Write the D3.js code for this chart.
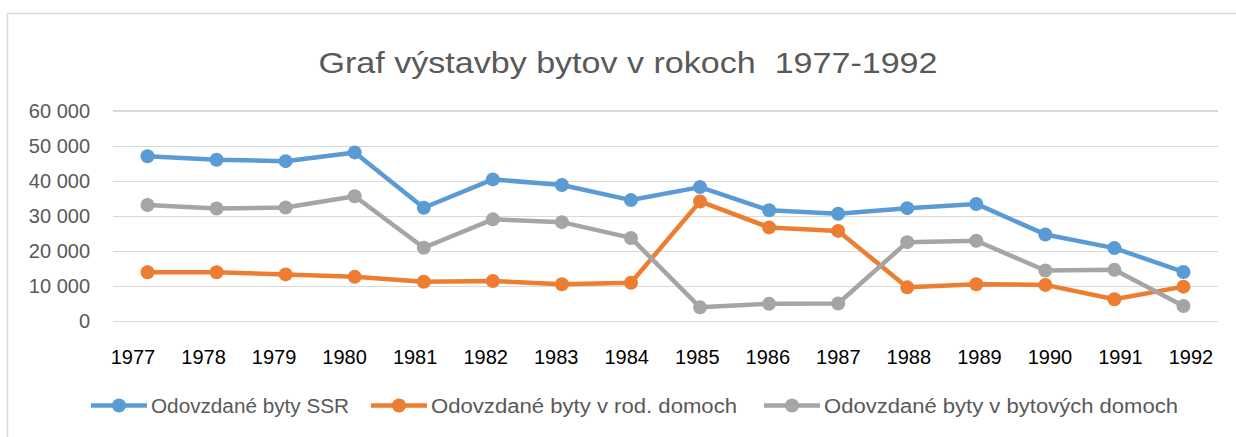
<!DOCTYPE html>
<html>
<head>
<meta charset="utf-8">
<script src="https://cdn.jsdelivr.net/npm/d3@7"></script>
<style>
body { margin: 0; background: #fff; }
svg { display: block; font-family: "Liberation Sans", Arial, sans-serif; }
.grid line { stroke: #d9d9d9; stroke-width: 1.5; shape-rendering: crispEdges; }
.grid path { stroke-width: 0; }
</style>
</head>
<body>
<div id="chart"></div>
<script>

var width = 1236;
var height = 437;

// data
var years = ["1977","1978","1979","1980","1981","1982","1983","1984","1985","1986","1987","1988","1989","1990","1991","1992"];
var bytySSR = [47000, 46000, 45600, 48100, 32300, 40400, 38800, 34500, 38200, 31600, 30600, 32200, 33400, 24700, 20800, 14000];
var bytyRod = [13900, 13900, 13300, 12600, 11200, 11400, 10500, 10900, 34100, 26700, 25700, 9600, 10500, 10300, 6200, 9800];
var bytyByt = [33100, 32100, 32400, 35600, 20900, 29000, 28200, 23700, 3900, 4900, 5000, 22500, 22900, 14400, 14600, 4300];
var yTicks = [0, 10000, 20000, 30000, 40000, 50000, 60000];
var seriesNames = ["Odovzdané byty SSR", "Odovzdané byty v rod. domoch", "Odovzdané byty v bytových domoch"];
var colors = ["#5b9bd5", "#ed7d31", "#a5a5a5"];
var title = "Graf výstavby bytov v rokoch\u00a0 1977-1992";

var series = [bytySSR, bytyRod, bytyByt];

var svg = d3.select("#chart")
  .append("svg")
    .attr("width", width)
    .attr("height", height);

// chart border
svg.append("rect")
  .attr("x", 7.5).attr("y", 13.5)
  .attr("width", width).attr("height", height)
  .attr("fill", "none")
  .attr("stroke", "#d9d9d9")
  .attr("stroke-width", 1.5);

function fit(sel, w) {
  sel.each(function() {
    if (this.getComputedTextLength() > 0) {
      d3.select(this).attr("textLength", w).attr("lengthAdjust", "spacingAndGlyphs");
    }
  });
}

svg.append("text")
  .attr("x", 628).attr("y", 73)
  .attr("text-anchor", "middle")
  .attr("fill", "#595959")
  .style("font-size", "30px")
  .text(title)
  .call(fit, 619);

var x_scale = d3.scalePoint()
  .domain(years)
  .range([113, 1218])
  .padding(0.5);

// the year labels sit on their own, a bit wider spread than the points
var label_scale = d3.scalePoint()
  .domain(years)
  .range([133, 1191]);

var y_scale = d3.scaleLinear()
  .domain([0, 60000])
  .range([321, 110.7]);

// y-grid
svg.append("g")
  .attr("class", "grid")
  .attr("transform", "translate(113,0)")
  .call(d3.axisLeft(y_scale).tickValues(yTicks).tickSize(-(1218 - 113)).tickFormat(""));

var fmt = d3.format(",");
svg.append("g")
  .selectAll("text")
  .data(yTicks)
  .enter().append("text")
    .attr("x", 90)
    .attr("y", d => y_scale(d))
    .attr("dy", "0.36em")
    .attr("text-anchor", "end")
    .attr("fill", "#595959")
    .style("font-size", "20px")
    .text(d => fmt(d).replace(/,/g, " "));

svg.append("g")
  .selectAll("text")
  .data(years)
  .enter().append("text")
    .attr("x", d => label_scale(d))
    .attr("y", 364)
    .attr("text-anchor", "middle")
    .attr("fill", "#000")
    .style("font-size", "20px")
    .text(d => d);

var line = d3.line()
  .x((d, i) => x_scale(years[i]))
  .y(d => y_scale(d));

series.forEach(function(s, k) {
  var g = svg.append("g");
  g.append("path")
    .datum(s)
    .attr("fill", "none")
    .attr("stroke", colors[k])
    .attr("stroke-width", 4.5)
    .attr("stroke-linejoin", "round")
    .attr("d", line);
  g.selectAll("circle")
    .data(s)
    .enter().append("circle")
      .attr("cx", (d, i) => x_scale(years[i]))
      .attr("cy", d => y_scale(d))
      .attr("r", 7)
      .attr("fill", colors[k]);
});

// legend
var legendX = [91, 371, 764];
var legendW = [198, 306, 354];
var ly = 405.5;
seriesNames.forEach(function(name, k) {
  var g = svg.append("g").attr("transform", `translate(${legendX[k]},${ly})`);
  g.append("line")
    .attr("x1", 0).attr("x2", 56)
    .attr("stroke", colors[k])
    .attr("stroke-width", 4.5);
  g.append("circle")
    .attr("cx", 28).attr("r", 7)
    .attr("fill", colors[k]);
  g.append("text")
    .attr("x", 60)
    .attr("dy", "0.36em")
    .attr("fill", "#595959")
    .style("font-size", "20px")
    .text(name)
    .call(fit, legendW[k]);
});

</script>
</body>
</html>
